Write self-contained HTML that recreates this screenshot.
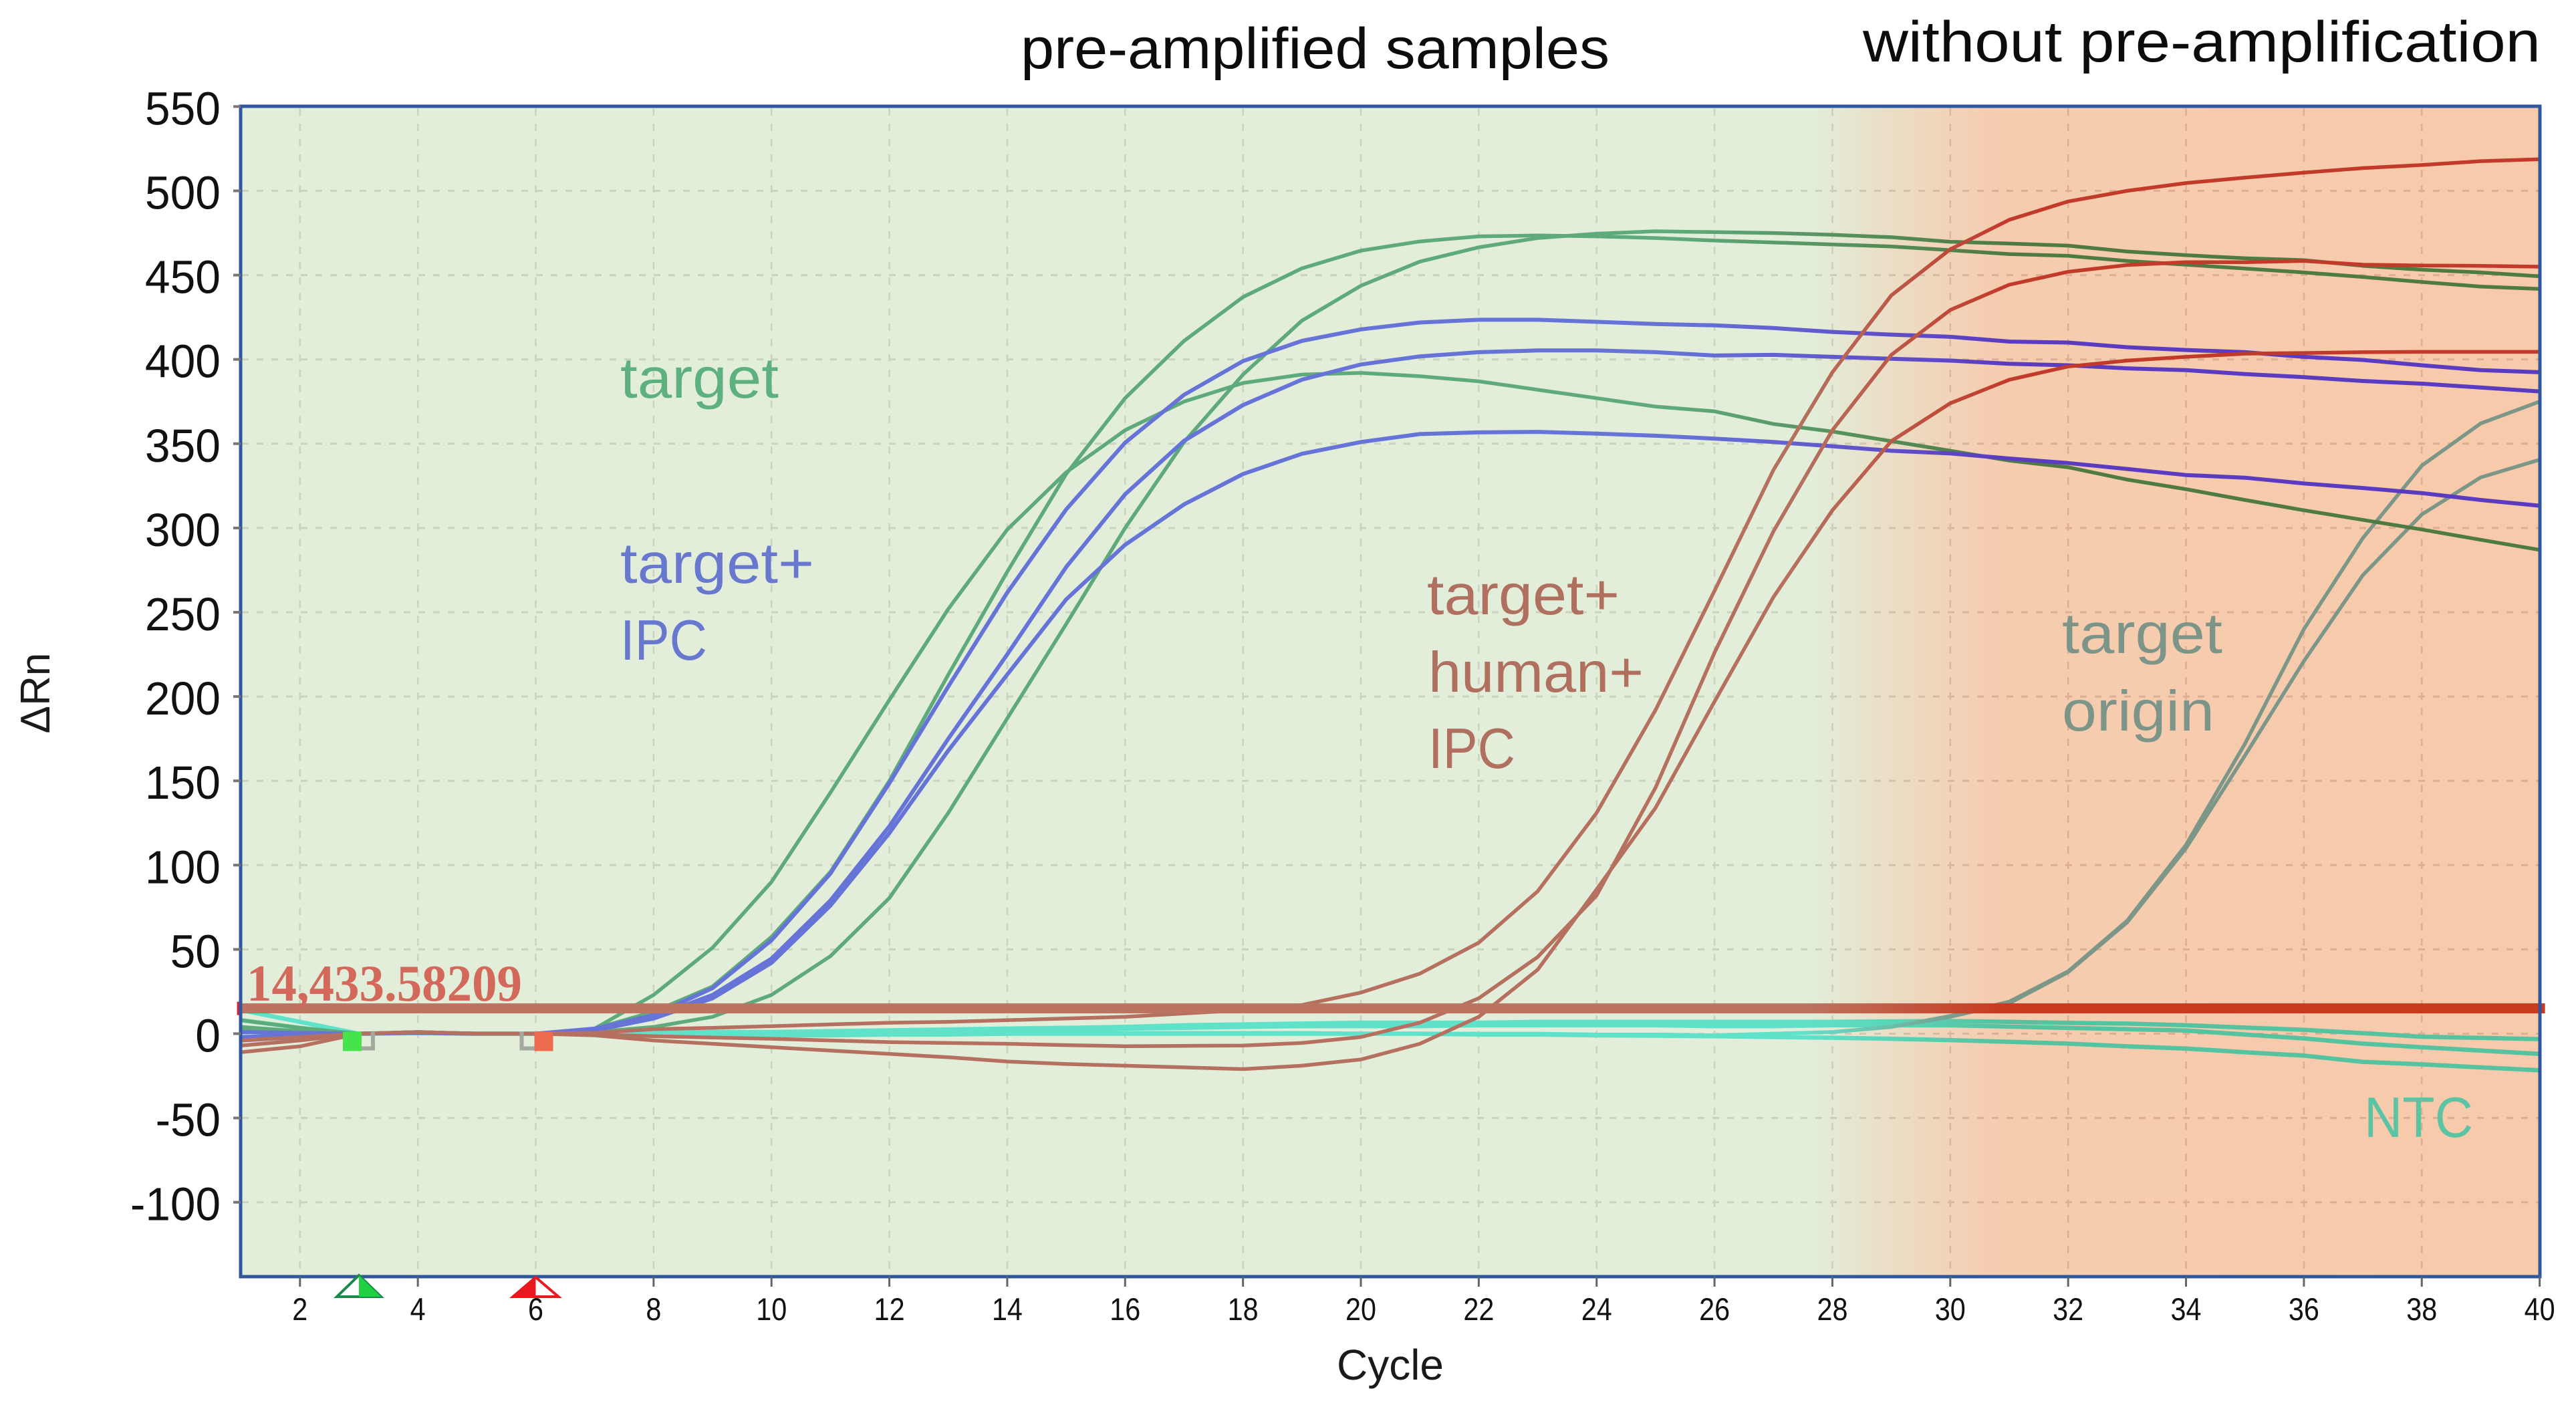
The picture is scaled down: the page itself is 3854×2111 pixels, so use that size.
<!DOCTYPE html>
<html lang="en">
<head>
<meta charset="utf-8">
<title>Amplification plot</title>
<style>
html,body{margin:0;padding:0;background:#fff;width:3854px;height:2111px;overflow:hidden}
svg{display:block}
text{font-family:"Liberation Sans",sans-serif}
</style>
</head>
<body>
<svg id="chart" xmlns="http://www.w3.org/2000/svg" width="3854" height="2111" viewBox="0 0 3854 2111">
  <defs>
    <linearGradient id="bgGrad" gradientUnits="userSpaceOnUse" x1="360" y1="0" x2="3800" y2="0">
      <stop offset="0" stop-color="#e2eed9"/>
      <stop offset="0.683" stop-color="#e2eed9"/>
      <stop offset="0.72" stop-color="#ecdcc4"/>
      <stop offset="0.765" stop-color="#f6ccaf"/>
      <stop offset="1" stop-color="#f7caab"/>
    </linearGradient>
    <linearGradient id="gridGrad" gradientUnits="userSpaceOnUse" x1="2700" y1="0" x2="3000" y2="0">
      <stop offset="0" stop-color="#c9d3c0"/>
      <stop offset="1" stop-color="#dcae93"/>
    </linearGradient>
    <linearGradient id="greenGrad" gradientUnits="userSpaceOnUse" x1="2500" y1="0" x2="3000" y2="0">
      <stop offset="0" stop-color="#5faa7b"/>
      <stop offset="1" stop-color="#4f7a42"/>
    </linearGradient>
    <linearGradient id="blueGrad" gradientUnits="userSpaceOnUse" x1="2500" y1="0" x2="3000" y2="0">
      <stop offset="0" stop-color="#6674d8"/>
      <stop offset="1" stop-color="#5b3cc0"/>
    </linearGradient>
    <linearGradient id="brownGrad" gradientUnits="userSpaceOnUse" x1="2700" y1="0" x2="3000" y2="0">
      <stop offset="0" stop-color="#b5705f"/>
      <stop offset="1" stop-color="#c23b2a"/>
    </linearGradient>
    <linearGradient id="tealGrad" gradientUnits="userSpaceOnUse" x1="2700" y1="0" x2="3000" y2="0">
      <stop offset="0" stop-color="#5fe2c9"/>
      <stop offset="1" stop-color="#55c2a0"/>
    </linearGradient>
    <linearGradient id="greyGrad" gradientUnits="userSpaceOnUse" x1="2700" y1="0" x2="2950" y2="0">
      <stop offset="0" stop-color="#5fe2c9"/>
      <stop offset="1" stop-color="#7c9788"/>
    </linearGradient>
    <linearGradient id="thresholdGrad" gradientUnits="userSpaceOnUse" x1="2700" y1="0" x2="3000" y2="0">
      <stop offset="0" stop-color="#bc7460"/>
      <stop offset="1" stop-color="#c93a1f"/>
    </linearGradient>
  </defs>

  <rect x="360" y="159" width="3440" height="1751" fill="url(#bgGrad)"/>
  <g id="grid"></g>
  <g id="series"></g>
  <g id="overlay"></g>

  <rect x="360" y="159" width="3440" height="1751" fill="none" stroke="#2f57a0" stroke-width="5"/>
  <g id="axes"></g>

  <text x="369" y="1497" font-size="77" font-weight="700" fill="#d2695a" textLength="412" lengthAdjust="spacingAndGlyphs" style="font-family:'Liberation Serif',serif">14,433.58209</text>

  <text x="1527" y="102" font-size="86" fill="#0c0c0c" textLength="881" lengthAdjust="spacingAndGlyphs">pre-amplified samples</text>
  <text x="2787" y="92" font-size="86" fill="#0c0c0c" textLength="1014" lengthAdjust="spacingAndGlyphs">without pre-amplification</text>

  <text x="928" y="595" font-size="85" fill="#5fb07f" textLength="237" lengthAdjust="spacingAndGlyphs">target</text>
  <text x="928" y="872" font-size="85" fill="#6878cf" textLength="290" lengthAdjust="spacingAndGlyphs">target+</text>
  <text x="928" y="987" font-size="85" fill="#6878cf" textLength="130" lengthAdjust="spacingAndGlyphs">IPC</text>
  <text x="2135" y="919" font-size="85" fill="#b0705f" textLength="288" lengthAdjust="spacingAndGlyphs">target+</text>
  <text x="2137" y="1035" font-size="85" fill="#b0705f" textLength="322" lengthAdjust="spacingAndGlyphs">human+</text>
  <text x="2137" y="1149" font-size="85" fill="#b0705f" textLength="130" lengthAdjust="spacingAndGlyphs">IPC</text>
  <text x="3085" y="977" font-size="85" fill="#7d9488" textLength="240" lengthAdjust="spacingAndGlyphs">target</text>
  <text x="3085" y="1093" font-size="85" fill="#7d9488" textLength="228" lengthAdjust="spacingAndGlyphs">origin</text>
  <text x="3537" y="1701" font-size="85" fill="#5cc4a4" textLength="163" lengthAdjust="spacingAndGlyphs">NTC</text>

  <text x="2080" y="2064" font-size="64" fill="#1a1a1a" text-anchor="middle" textLength="160" lengthAdjust="spacingAndGlyphs">Cycle</text>
  <text transform="translate(74 1037) rotate(-90)" font-size="62" fill="#1a1a1a" text-anchor="middle">ΔRn</text>
</svg>

<script>
const cycles = [1,2,3,4,5,6,7,8,9,10,11,12,13,14,15,16,17,18,19,20,21,22,23,24,25,26,27,28,29,30,31,32,33,34,35,36,37,38,39,40];
const xTickLabels = [2,4,6,8,10,12,14,16,18,20,22,24,26,28,30,32,34,36,38,40];
const yTickLabels = [550,500,450,400,350,300,250,200,150,100,50,0,-50,-100];
const thresholdValue = 15;
const startCycle = 3;
const endCycle = 6;

const target1 = [8,3.5,0,0.5,0,0,3,23,51,90,143,198,252,299,333,358,375,386,391,392,390,387,382,377,372,369.2,361.7,357.2,351.5,345.8,340,336,328.7,323,316.6,310.5,304.8,299.1,293,287];
const target2 = [4,1.5,0,0.5,0,0,3,13,28,57.4,96,150,213,274,332,377,411,437,454,464.5,470,473,473.5,473,472,470.5,469.4,468.2,467,464.8,462.5,461.4,458.4,456.2,453.9,451.6,448.9,445.9,443.2,441.8];
const target3 = [2,1,0,0.5,0,0,1,4,10,23,46,80.5,131,187,243,300,351,391,423,443.7,458,466.5,472,474.6,476,475.5,475,473.9,472.5,469.8,468.7,467.5,464,461.8,460,458.9,455.5,453.2,451.6,449.3];

const targetIpc1 = [1,0.5,0,0.5,0,0,3,11,27,55.4,95,148.6,206,261.6,311,350.6,379,399,411,417.8,421.9,423.5,423.5,422.3,421,420.2,418.6,416.3,414.7,413.4,410.6,410,407.2,405.6,404.3,401.5,399.7,396.5,393.6,392.4];
const targetIpc2 = [-4,-2,0,0.5,0,0,2,10,23,44.5,79,123,175,225,276.8,320,351.7,372.9,388,397,401.8,404.3,405.3,405.3,404.3,402.3,402.7,401.5,400.4,399.3,397.4,396.5,394.7,393.6,391.3,389.5,387.2,385.6,383.3,381];
const targetIpc3 = [-2,-1,0,0.5,0,0,2,9,21,42,76,119,168,213,257.6,290,314,332,344,351,355.7,356.7,357,356,354.7,353,351,348.5,345.8,344.2,341.2,338.5,335,331.4,329.8,326.4,323.7,320.7,316.6,313.2];

const humanIpc1 = [-4,-2,0,1,0,0,0.5,2.7,3.5,4.5,5.5,6.5,7,8,9,10,12,14,17,24.4,35.6,54,84.5,131,192,262.7,334.4,392.4,438,465.3,482.8,493.7,500,504.6,507.8,510.8,513.5,515.3,517.6,518.7];
const humanIpc2 = [-7,-4,0,1,0,0,-0.5,-1.5,-2.3,-3,-4,-5,-5.5,-6,-6.8,-7.4,-7.2,-7,-5.5,-2,6.5,21,45.5,82,146,226,298,358,402.7,429.3,444.3,452,456,457.7,457.7,458.4,456.2,455.7,455.5,455];
const humanIpc3 = [-11,-7.5,0,1,0,0,-1,-4,-6,-8,-10,-12,-14,-16.5,-18,-19,-20,-21,-19,-15.3,-6,10,38,85.6,134,197,259,310.5,351.5,374,387.9,395.8,399.3,401.5,403.4,403.8,404.3,404.5,404.5,404.5];

const origin1 = [1,0.5,0,0.5,0,0,0,0,0.5,1,1,1,1,1,1,0.5,0.5,0.5,0.5,0,0,0,0,-0.5,-0.5,-1,0,1,4,10.5,19,37,67,112,172,240,294,337,362,375];
const origin2 = [1,0.5,0,0.5,0,0,0,0,0.5,1,1,1,1,1,1,0.5,0.5,0.5,0.5,0,0,0,0,-0.5,-0.5,-1,0,1,4,10,18,36.5,66,110,165,221,272,308,330,340.5];

const ntc1 = [14,7,0,0.5,0,0,0,0.5,1,1,1.5,2,2.5,3,3.5,4,5,5.5,6,6.5,6.5,6.5,7,7,7,7,7,7,7.3,7.5,7,6.4,6,5,3.6,2.3,0.3,-1.8,-2.5,-3.2];
const ntc2 = [8,3.5,0,0.5,0,0,0,0,0,0.5,1,1.5,2,2.5,3,3,3.5,4,4.5,4.5,4.5,5,5,5,5,4.5,4.5,5,5,5,4.2,3.4,2.7,1.9,-0.5,-2.8,-5.9,-8,-10,-12];
const ntc3 = [1,0.5,0,0.5,0,0,0,-0.5,-1,-1,-1,-0.5,-0.5,0,0,0,0,0,0,0,0,-0.5,-0.5,-1,-1.2,-1.5,-2,-2.4,-3,-3.8,-4.8,-5.9,-7.5,-8.8,-11,-13,-16.7,-18.2,-20,-21.7];

const seriesNames = ['ntc-curve-1','ntc-curve-2','ntc-curve-3','target-origin-curve-1','target-origin-curve-2','target-curve-1','target-curve-2','target-curve-3','target-ipc-curve-1','target-ipc-curve-2','target-ipc-curve-3','target-human-ipc-curve-1','target-human-ipc-curve-2','target-human-ipc-curve-3'];
const seriesValues = [ntc1,ntc2,ntc3,origin1,origin2,target1,target2,target3,targetIpc1,targetIpc2,targetIpc3,humanIpc1,humanIpc2,humanIpc3];
const seriesColors = ['tealGrad','tealGrad','tealGrad','greyGrad','greyGrad','greenGrad','greenGrad','greenGrad','blueGrad','blueGrad','blueGrad','brownGrad','brownGrad','brownGrad'];
const seriesWidths = [6.5,6.5,6.5,5.5,5.5,5.5,5.5,5.5,6,6,6,5.5,5.5,5.5];

const NS = 'http://www.w3.org/2000/svg';
function xScale(c){ return 360.6 + (c - 1) * 88.18; }
function yScale(v){ return 1546.5 - v * 2.522; }
function mk(tag, attrs, parent){
  const el = document.createElementNS(NS, tag);
  for (const k in attrs) el.setAttribute(k, attrs[k]);
  parent.appendChild(el);
  return el;
}
const gridG = document.getElementById('grid');
const seriesG = document.getElementById('series');
const overlayG = document.getElementById('overlay');
const axesG = document.getElementById('axes');

yTickLabels.forEach(function(v){
  const y = yScale(v);
  if (v !== 550) {
    const line = mk('line', {x1:362, x2:3798, y1:y, y2:y, stroke:'url(#gridGrad)', 'stroke-width':3, 'stroke-dasharray':'10 12'}, gridG);
    
    
  }
  const tick = mk('line', {x1:349, x2:360, y1:y, y2:y, stroke:'#7a7478', 'stroke-width':4}, axesG);
  
  
  const s = String(v);
  const w = s.replace('-', '').length * 37.7 + (v < 0 ? 22 : 0);
  const label = mk('text', {x:330 - w, y:y + 27, 'font-size':70, fill:'#111', textLength:w, lengthAdjust:'spacingAndGlyphs'}, axesG);
  
  
  label.textContent = s;
});

xTickLabels.forEach(function(c){
  const x = xScale(c);
  if (c !== 40) {
    const line = mk('line', {x1:x, x2:x, y1:162, y2:1908, stroke:'url(#gridGrad)', 'stroke-width':2.5, 'stroke-dasharray':'11 12'}, gridG);
    
    
  }
  const tick = mk('line', {x1:x, x2:x, y1:1910, y2:1925, stroke:'#5f6670', 'stroke-width':3}, axesG);
  
  
  const s = String(c);
  const w = s.length * 23;
  const label = mk('text', {x:x - w / 2, y:1975, 'font-size':47, fill:'#111', textLength:w, lengthAdjust:'spacingAndGlyphs'}, axesG);
  
  
  label.textContent = s;
});

seriesValues.forEach(function(vals, i){
  let d = '';
  vals.forEach(function(v, j){
    d += (j ? 'L' : 'M') + xScale(cycles[j]).toFixed(1) + ' ' + yScale(v).toFixed(1);
  });
  const path = mk('path', {d:d, fill:'none', stroke:'url(#' + seriesColors[i] + ')', 'stroke-width':seriesWidths[i], 'stroke-linejoin':'round'}, seriesG);
  
  
});

const ty = yScale(thresholdValue);
const thresholdLine = mk('line', {x1:xScale(1) - 2, x2:xScale(40) + 8, y1:ty, y2:ty, stroke:'url(#thresholdGrad)', 'stroke-width':15}, overlayG);


const thresholdHandle = mk('rect', {x:xScale(1) - 6, y:ty - 10, width:4, height:20, fill:'#d8202f'}, overlayG);



const y0 = yScale(0);
const sx = xScale(startCycle);
const ex = xScale(endCycle);

const startBracket = mk('path', {d:'M' + (sx + 4) + ' ' + (y0 + 22) + 'H' + (sx + 21) + 'V' + (y0 - 3), fill:'none', stroke:'#a4a9a0', 'stroke-width':6}, overlayG);


const startSquare = mk('rect', {x:sx - 24, y:y0 - 3, width:28, height:29, fill:'#44e44a'}, overlayG);


const endBracket = mk('path', {d:'M' + (ex - 21) + ' ' + (y0 - 3) + 'V' + (y0 + 22) + 'H' + (ex - 2), fill:'none', stroke:'#a4a9a0', 'stroke-width':6}, overlayG);


const endSquare = mk('rect', {x:ex - 2, y:y0 - 3, width:28, height:29, fill:'#ef6b50'}, overlayG);



const startOutline = mk('path', {d:'M' + sx + ' 1908L' + (sx + 33) + ' 1940H' + (sx - 33) + 'Z', fill:'#fff', stroke:'#1a8a4a', 'stroke-width':4}, axesG);


const startFill = mk('path', {d:'M' + sx + ' 1908L' + (sx + 33) + ' 1940H' + sx + 'Z', fill:'#1fd040'}, axesG);


const endOutline = mk('path', {d:'M' + ex + ' 1911L' + (ex + 34) + ' 1940H' + (ex - 34) + 'Z', fill:'#fff', stroke:'#e81a20', 'stroke-width':4}, axesG);


const endFill = mk('path', {d:'M' + ex + ' 1911V1940H' + (ex - 34) + 'Z', fill:'#e81a20'}, axesG);


</script>
</body>
</html>
